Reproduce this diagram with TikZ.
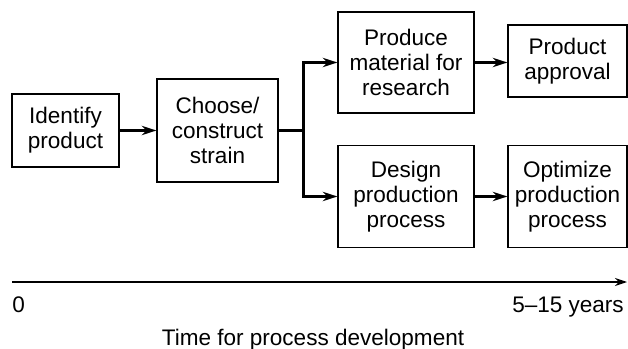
\documentclass[tikz,border=0pt]{standalone}
\usepackage{fontspec}
\setmainfont{Liberation Sans}
\usepackage{tikz}
\usetikzlibrary{arrows.meta,positioning}
\tikzset{
  stepbox/.style={draw=black,line width=0.9pt,fill=white,text=black,align=center,
                  inner sep=0pt,font=\fontsize{16.9}{18.9}\selectfont},
  fl/.style={-{Stealth[length=11pt,width=7pt]},line width=2pt,draw=black},
  axis/.style={-{Stealth[length=9pt,width=6pt]},line width=1pt,draw=black},
  lbl/.style={inner sep=0pt,font=\fontsize{16.9}{18.9}\selectfont}
}
\begin{document}
\begin{tikzpicture}[x=0.75pt,y=-0.75pt]
  \useasboundingbox (0,0) rectangle (628,349);
  % process steps (sizes in pt, 1px = 0.75pt)
  \node[stepbox,minimum width=80.25pt,minimum height=54.75pt] (identify) at (65.5,130.5) {Identify\\product};
  \node[stepbox,minimum width=90.75pt,minimum height=77.25pt] (choose) at (217.5,130.5) {Choose/\\construct\\strain};
  \node[stepbox,minimum width=102pt,minimum height=75.75pt] (produce) at (406,62.5) {Produce\\material for\\research};
  \node[stepbox,minimum width=89.25pt,minimum height=54pt] (approval) at (567.5,61) {Product\\approval};
  \node[stepbox,minimum width=102pt,minimum height=76.5pt] (design) at (406,196.5) {Design\\production\\process};
  \node[stepbox,minimum width=89.25pt,minimum height=76.5pt] (optimize) at (567.5,196.5) {Optimize\\production\\process};
  \coordinate (split) at (303.5,130.5);
  \draw[fl] (identify) -- (choose);
  \draw[line width=2pt] (choose) -- (split);
  \draw[fl] (split) |- (produce);
  \draw[fl] (split) |- (design);
  \draw[fl] (produce) -- (produce -| approval.west);
  \draw[fl] (design) -- (optimize);
  % time axis
  \coordinate (t0) at (12,282);
  \coordinate (t1) at (627,282);
  \draw[axis] (t0) -- (t1);
  \node[lbl,anchor=base west] (zero) at (12,312) {0};
  \node[lbl,anchor=base east] (years) at (624,312) {5--15 years};
  \node[lbl,anchor=base] (title) at (313,345) {Time for process development};
\end{tikzpicture}
\end{document}
